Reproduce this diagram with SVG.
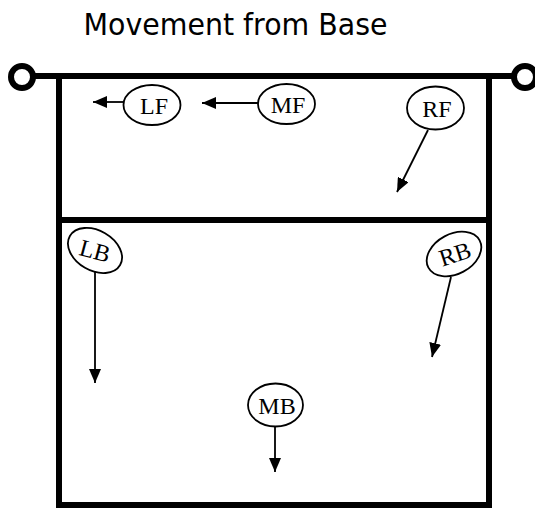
<svg xmlns="http://www.w3.org/2000/svg" width="535" height="509" viewBox="0 0 535 509">
<style>
.court{fill:none;stroke:#000;stroke-width:6;}
.post{fill:#fff;stroke:#000;stroke-width:6;}
.node ellipse{fill:#fff;stroke:#000;stroke-width:1.8;}
.node text{font-family:"Liberation Serif","Times New Roman",serif;font-size:24px;fill:#000;text-anchor:middle;}
.conn line{stroke:#000;stroke-width:1.8;fill:none;marker-end:url(#ah);}
.title{font-family:"DejaVu Sans",Verdana,sans-serif;font-size:31px;fill:#000;}
</style>
<defs>
<marker id="ah" viewBox="0 0 14 12" refX="14" refY="6" markerWidth="14" markerHeight="12" markerUnits="userSpaceOnUse" orient="auto">
<path d="M0,0 L14,6 L0,12 z" fill="#000"/>
</marker>
</defs>
<rect width="535" height="509" fill="#fff"/>
<text class="title" x="83.5" y="35" textLength="304" lengthAdjust="spacingAndGlyphs">Movement from Base</text>
<g id="court">
<line class="court" x1="30" y1="76" x2="516" y2="76"/>
<polyline class="court" points="59,73 59,505 489,505 489,73"/>
<line class="court" x1="59" y1="220" x2="489" y2="220"/>
<circle class="post" cx="22" cy="77" r="11"/>
<circle class="post" cx="525" cy="77" r="11"/>
</g>
<g id="connectors" class="conn">
<line x1="124" y1="102" x2="93" y2="102"/>
<line x1="258" y1="103" x2="202" y2="103"/>
<line x1="428" y1="130" x2="397" y2="192"/>
<line x1="95" y1="272" x2="95" y2="383"/>
<line x1="275" y1="427" x2="275" y2="472"/>
<line x1="451" y1="277" x2="432" y2="357"/>
</g>
<g id="LF" class="node"><ellipse cx="152" cy="105" rx="28.5" ry="20"/><text x="154" y="114">LF</text></g>
<g id="MF" class="node"><ellipse cx="286.5" cy="104" rx="28.5" ry="20"/><text x="288" y="113">MF</text></g>
<g id="RF" class="node"><ellipse cx="435.5" cy="108" rx="28.5" ry="21.5"/><text x="437" y="116.5">RF</text></g>
<g id="LB" class="node"><ellipse cx="95" cy="250.5" rx="29" ry="20" transform="rotate(30 95 250.5)"/><text x="95" y="259" transform="rotate(15 95 250.5)">LB</text></g>
<g id="MB" class="node"><ellipse cx="275.5" cy="405" rx="27.5" ry="21.5"/><text x="277" y="413.5">MB</text></g>
<g id="RB" class="node"><ellipse cx="454" cy="254" rx="29" ry="20" transform="rotate(-28 454 254)"/><text x="455" y="262.5" transform="rotate(-18 454 254)">RB</text></g>
</svg>
